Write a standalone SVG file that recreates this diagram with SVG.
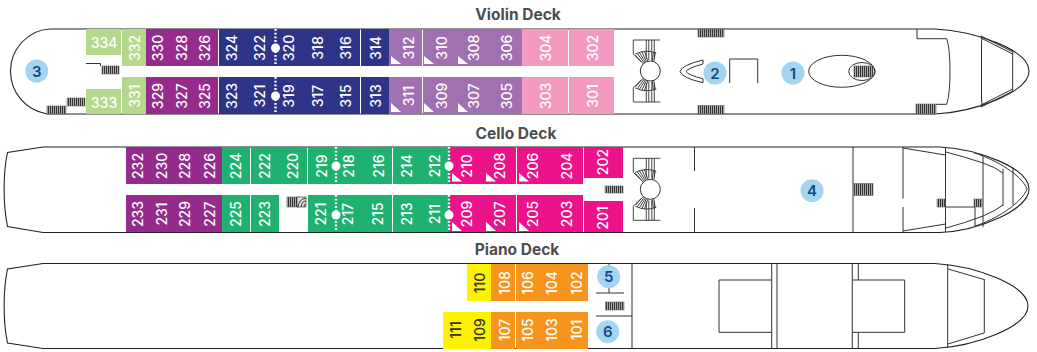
<svg xmlns="http://www.w3.org/2000/svg" width="1037" height="352" viewBox="0 0 1037 352">
<style>
text{font-family:Inter,"Open Sans","Liberation Sans",sans-serif}
.n{font-size:14px;font-weight:500;fill:#fff;text-anchor:middle;dominant-baseline:central}
.d{fill:#333}
.t{font-size:15.500px;font-weight:700;fill:#4d4d4f;text-anchor:middle}
.c{fill:#a3d5f2}
.b{font-size:15px;font-weight:600;fill:#0f4a80;text-anchor:middle;dominant-baseline:central}
.l{fill:none;stroke:#333;stroke-width:1}
.h{fill:none;stroke:#222;stroke-width:1.1}
.s{fill:url(#hatch);stroke:#666;stroke-width:.6}
.dot{stroke:#fff;stroke-width:2.400;stroke-dasharray:1.800 1.900;fill:none}
.w{fill:#fff}
.navy{fill:#2e3588}.pur{fill:#952b8c}.lg{fill:#b5d98c}.lp{fill:#a070b0}.pk{fill:#f39ac0}
.gr{fill:#1eb16f}.mg{fill:#ec1289}.or{fill:#f7941e}.ye{fill:#fff200}
</style>
<defs>
<pattern id="hatch" patternUnits="userSpaceOnUse" width="2" height="2"><rect width="2" height="2" fill="#aaa"/><rect width="1" height="2" fill="#333"/></pattern>
<g id="sp" fill="none" stroke="#333" stroke-width=".9">
<path d="M10 -31H-17V-17L-9 -9"/>
<path d="M-4 -31V-12M-1.500 -31V-11M1.500 -31V-11M4 -31V-12"/>
<path d="M-15 -17Q-4 -22 6 -18"/>
<path d="M-7 -7L-15 -16M-6 -8L-13 -17.500M-5 -9L-11 -18.500M-4 -9.500L-8.500 -19.500M-2.500 -10L-6 -20M2 -10L3 -19M3.500 -9.500L5 -18.500"/>
</g>
<g id="spiral"><use href="#sp"/><use href="#sp" transform="scale(1 -1)"/><circle r="10" fill="#fff" stroke="#333"/></g>
</defs>

<g id="hulls">
<path id="hull-violin" class="h" d="M50 29H935C975 31 1029 50 1029 71C1029 92 975 112 935 114H47C25 110 10.500 92 10.500 71C10.500 50 27 30 50 29Z"/>
<path id="hull-cello" class="h" d="M43 147H940C978 149 1029 168 1029 189C1029 210 978 231 940 232.500H43L7.500 226.500C3 205 3 173 7.500 152.500Z"/>
<path id="hull-piano" class="h" d="M43 263.500H935C975 266 1028 285 1028 306C1028 327 975 346 935 348.500H43L7.500 343C3 322 3 290 7.500 269Z"/>
</g>

<g id="titles">
<text class="t" x="518" y="20">Violin Deck</text>
<text class="t" x="516" y="139">Cello Deck</text>
<text class="t" x="517" y="255">Piano Deck</text>
</g>

<g id="violin-rooms">
<g id="r334"><rect class="lg" x="86" y="29" width="35" height="26"/><text class="n" x="104" y="42">334</text></g>
<g id="r332"><rect class="lg" x="122" y="29" width="24" height="37"/><text class="n" transform="rotate(-90 134 48)" x="134" y="48">332</text></g>
<g id="r330"><rect class="pur" x="146" y="29" width="23" height="37"/><text class="n" transform="rotate(-90 157 48)" x="157" y="48">330</text></g>
<g id="r328"><rect class="pur" x="169" y="29" width="23" height="37"/><text class="n" transform="rotate(-90 181 48)" x="181" y="48">328</text></g>
<g id="r326"><rect class="pur" x="192" y="29" width="26" height="37"/><text class="n" transform="rotate(-90 204 48)" x="204" y="48">326</text></g>
<g id="r324"><rect class="navy" x="219" y="29" width="26" height="37"/><text class="n" transform="rotate(-90 231 48)" x="231" y="48">324</text></g>
<g id="r322"><rect class="navy" x="245" y="29" width="30" height="37"/><text class="n" transform="rotate(-90 259 48)" x="259" y="48">322</text></g>
<g id="r320"><rect class="navy" x="275" y="29" width="28" height="37"/><text class="n" transform="rotate(-90 288 48)" x="288" y="48">320</text></g>
<g id="r318"><rect class="navy" x="303" y="29" width="28" height="37"/><text class="n" transform="rotate(-90 317 48)" x="317" y="48">318</text></g>
<g id="r316"><rect class="navy" x="331" y="29" width="29" height="37"/><text class="n" transform="rotate(-90 345 48)" x="345" y="48">316</text></g>
<g id="r314"><rect class="navy" x="361" y="29" width="28" height="37"/><text class="n" transform="rotate(-90 375 48)" x="375" y="48">314</text></g>
<g id="r312"><rect class="lp" x="389" y="29" width="33" height="37"/><path class="w" d="M391 56V64H401Z"/><text class="n" transform="rotate(-90 408 48)" x="408" y="48">312</text></g>
<g id="r310"><rect class="lp" x="423" y="29" width="34" height="37"/><path class="w" d="M424 56V64H434Z"/><text class="n" transform="rotate(-90 441 48)" x="441" y="48">310</text></g>
<g id="r308"><rect class="lp" x="457" y="29" width="33" height="37"/><path class="w" d="M458 56V64H468Z"/><text class="n" transform="rotate(-90 473 48)" x="473" y="48">308</text></g>
<g id="r306"><rect class="lp" x="490" y="29" width="32" height="37"/><text class="n" transform="rotate(-90 506 48)" x="506" y="48">306</text></g>
<g id="r304"><rect class="pk" x="522" y="29" width="46" height="37"/><text class="n" transform="rotate(-90 545 48)" x="545" y="48">304</text></g>
<g id="r302"><rect class="pk" x="569" y="29" width="45" height="37"/><text class="n" transform="rotate(-90 592 48)" x="592" y="48">302</text></g>

<g id="r333"><rect class="lg" x="86" y="89" width="35" height="25"/><text class="n" x="104" y="102">333</text></g>
<g id="r331"><rect class="lg" x="122" y="77" width="24" height="37"/><text class="n" transform="rotate(-90 134 96)" x="134" y="96">331</text></g>
<g id="r329"><rect class="pur" x="146" y="77" width="23" height="37"/><text class="n" transform="rotate(-90 157 96)" x="157" y="96">329</text></g>
<g id="r327"><rect class="pur" x="169" y="77" width="23" height="37"/><text class="n" transform="rotate(-90 181 96)" x="181" y="96">327</text></g>
<g id="r325"><rect class="pur" x="192" y="77" width="26" height="37"/><text class="n" transform="rotate(-90 204 96)" x="204" y="96">325</text></g>
<g id="r323"><rect class="navy" x="219" y="77" width="26" height="37"/><text class="n" transform="rotate(-90 231 96)" x="231" y="96">323</text></g>
<g id="r321"><rect class="navy" x="245" y="77" width="30" height="37"/><text class="n" transform="rotate(-90 259 96)" x="259" y="96">321</text></g>
<g id="r319"><rect class="navy" x="275" y="77" width="28" height="37"/><text class="n" transform="rotate(-90 288 96)" x="288" y="96">319</text></g>
<g id="r317"><rect class="navy" x="303" y="77" width="28" height="37"/><text class="n" transform="rotate(-90 317 96)" x="317" y="96">317</text></g>
<g id="r315"><rect class="navy" x="331" y="77" width="29" height="37"/><text class="n" transform="rotate(-90 345 96)" x="345" y="96">315</text></g>
<g id="r313"><rect class="navy" x="361" y="77" width="28" height="37"/><text class="n" transform="rotate(-90 375 96)" x="375" y="96">313</text></g>
<g id="r311"><rect class="lp" x="389" y="77" width="33" height="37"/><path class="w" d="M391 103V112H401Z"/><text class="n" transform="rotate(-90 408 96)" x="408" y="96">311</text></g>
<g id="r309"><rect class="lp" x="423" y="77" width="34" height="37"/><path class="w" d="M424 103V112H434Z"/><text class="n" transform="rotate(-90 441 96)" x="441" y="96">309</text></g>
<g id="r307"><rect class="lp" x="457" y="77" width="33" height="37"/><path class="w" d="M458 103V112H468Z"/><text class="n" transform="rotate(-90 473 96)" x="473" y="96">307</text></g>
<g id="r305"><rect class="lp" x="490" y="77" width="32" height="37"/><text class="n" transform="rotate(-90 506 96)" x="506" y="96">305</text></g>
<g id="r303"><rect class="pk" x="522" y="77" width="46" height="37"/><text class="n" transform="rotate(-90 545 96)" x="545" y="96">303</text></g>
<g id="r301"><rect class="pk" x="569" y="77" width="45" height="37"/><text class="n" transform="rotate(-90 592 96)" x="592" y="96">301</text></g>
</g>

<g id="cello-rooms">
<g id="r232"><rect class="pur" x="126" y="147" width="23" height="37"/><text class="n" transform="rotate(-90 137 166)" x="137" y="166">232</text></g>
<g id="r230"><rect class="pur" x="149" y="147" width="24" height="37"/><text class="n" transform="rotate(-90 161 166)" x="161" y="166">230</text></g>
<g id="r228"><rect class="pur" x="173" y="147" width="24" height="37"/><text class="n" transform="rotate(-90 184 166)" x="184" y="166">228</text></g>
<g id="r226"><rect class="pur" x="197" y="147" width="25" height="37"/><text class="n" transform="rotate(-90 209 166)" x="209" y="166">226</text></g>
<g id="r224"><rect class="gr" x="222" y="147" width="28" height="37"/><text class="n" transform="rotate(-90 235 166)" x="235" y="166">224</text></g>
<g id="r222"><rect class="gr" x="251" y="147" width="27" height="37"/><text class="n" transform="rotate(-90 264 166)" x="264" y="166">222</text></g>
<g id="r220"><rect class="gr" x="278" y="147" width="29" height="37"/><text class="n" transform="rotate(-90 292 166)" x="292" y="166">220</text></g>
<g id="r219"><rect class="gr" x="308" y="147" width="28" height="37"/><text class="n" transform="rotate(-90 321 166)" x="321" y="166">219</text></g>
<g id="r218"><rect class="gr" x="336" y="147" width="27" height="37"/><text class="n" transform="rotate(-90 348 166)" x="348" y="166">218</text></g>
<g id="r216"><rect class="gr" x="363" y="147" width="29" height="37"/><text class="n" transform="rotate(-90 378 166)" x="378" y="166">216</text></g>
<g id="r214"><rect class="gr" x="393" y="147" width="27" height="37"/><text class="n" transform="rotate(-90 406 166)" x="406" y="166">214</text></g>
<g id="r212"><rect class="gr" x="420" y="147" width="29" height="37"/><text class="n" transform="rotate(-90 434 166)" x="434" y="166">212</text></g>
<g id="r210"><rect class="mg" x="449" y="147" width="34" height="37"/><path class="w" d="M452 173V181.500H462Z"/><text class="n" transform="rotate(-90 466 166)" x="466" y="166">210</text></g>
<g id="r208"><rect class="mg" x="483" y="147" width="33" height="37"/><path class="w" d="M486 173V181.500H496Z"/><text class="n" transform="rotate(-90 499 166)" x="499" y="166">208</text></g>
<g id="r206"><rect class="mg" x="517" y="147" width="32" height="37"/><path class="w" d="M519 173V181.500H529Z"/><text class="n" transform="rotate(-90 532 166)" x="532" y="166">206</text></g>
<g id="r204"><rect class="mg" x="549" y="147" width="34" height="37"/><text class="n" transform="rotate(-90 566 166)" x="566" y="166">204</text></g>
<g id="r202"><rect class="mg" x="584" y="147" width="39" height="31"/><text class="n" transform="rotate(-90 602 162)" x="602" y="162">202</text></g>

<g id="r233"><rect class="pur" x="126" y="195" width="23" height="37"/><text class="n" transform="rotate(-90 137 214)" x="137" y="214">233</text></g>
<g id="r231"><rect class="pur" x="149" y="195" width="24" height="37"/><text class="n" transform="rotate(-90 161 214)" x="161" y="214">231</text></g>
<g id="r229"><rect class="pur" x="173" y="195" width="24" height="37"/><text class="n" transform="rotate(-90 184 214)" x="184" y="214">229</text></g>
<g id="r227"><rect class="pur" x="197" y="195" width="25" height="37"/><text class="n" transform="rotate(-90 209 214)" x="209" y="214">227</text></g>
<g id="r225"><rect class="gr" x="222" y="195" width="28" height="37"/><text class="n" transform="rotate(-90 235 214)" x="235" y="214">225</text></g>
<g id="r223"><rect class="gr" x="251" y="195" width="28" height="37"/><text class="n" transform="rotate(-90 264 214)" x="264" y="214">223</text></g>
<g id="r221"><rect class="gr" x="308" y="195" width="28" height="37"/><text class="n" transform="rotate(-90 320 214)" x="320" y="214">221</text></g>
<g id="r217"><rect class="gr" x="336" y="195" width="27" height="37"/><text class="n" transform="rotate(-90 347 214)" x="347" y="214">217</text></g>
<g id="r215"><rect class="gr" x="363" y="195" width="29" height="37"/><text class="n" transform="rotate(-90 377 214)" x="377" y="214">215</text></g>
<g id="r213"><rect class="gr" x="393" y="195" width="27" height="37"/><text class="n" transform="rotate(-90 406 214)" x="406" y="214">213</text></g>
<g id="r211"><rect class="gr" x="420" y="195" width="29" height="37"/><text class="n" transform="rotate(-90 434 214)" x="434" y="214">211</text></g>
<g id="r209"><rect class="mg" x="449" y="195" width="34" height="37"/><path class="w" d="M452 222V231H462Z"/><text class="n" transform="rotate(-90 466 214)" x="466" y="214">209</text></g>
<g id="r207"><rect class="mg" x="483" y="195" width="33" height="37"/><path class="w" d="M486 222V231H496Z"/><text class="n" transform="rotate(-90 499 214)" x="499" y="214">207</text></g>
<g id="r205"><rect class="mg" x="517" y="195" width="32" height="37"/><path class="w" d="M519 222V231H529Z"/><text class="n" transform="rotate(-90 532 214)" x="532" y="214">205</text></g>
<g id="r203"><rect class="mg" x="549" y="195" width="34" height="37"/><text class="n" transform="rotate(-90 566 214)" x="566" y="214">203</text></g>
<g id="r201"><rect class="mg" x="584" y="201" width="39" height="31"/><text class="n" transform="rotate(-90 602 218)" x="602" y="218">201</text></g>
</g>

<g id="piano-rooms">
<g id="r110"><rect class="ye" x="467" y="264" width="24" height="37"/><text class="n d" transform="rotate(-90 479 283)" x="479" y="283">110</text></g>
<g id="r108"><rect class="or" x="491" y="264" width="24" height="37"/><text class="n" transform="rotate(-90 504 283)" x="504" y="283">108</text></g>
<g id="r106"><rect class="or" x="516" y="264" width="24" height="37"/><text class="n" transform="rotate(-90 527 283)" x="527" y="283">106</text></g>
<g id="r104"><rect class="or" x="540" y="264" width="24" height="37"/><text class="n" transform="rotate(-90 551 283)" x="551" y="283">104</text></g>
<g id="r102"><rect class="or" x="564" y="264" width="24" height="37"/><text class="n" transform="rotate(-90 576 283)" x="576" y="283">102</text></g>
<g id="r111"><rect class="ye" x="443" y="312" width="24" height="37"/><text class="n d" transform="rotate(-90 455 330)" x="455" y="330">111</text></g>
<g id="r109"><rect class="ye" x="467" y="312" width="24" height="37"/><text class="n d" transform="rotate(-90 479 330)" x="479" y="330">109</text></g>
<g id="r107"><rect class="or" x="491" y="312" width="24" height="37"/><text class="n" transform="rotate(-90 504 330)" x="504" y="330">107</text></g>
<g id="r105"><rect class="or" x="516" y="312" width="24" height="37"/><text class="n" transform="rotate(-90 527 330)" x="527" y="330">105</text></g>
<g id="r103"><rect class="or" x="540" y="312" width="24" height="37"/><text class="n" transform="rotate(-90 551 330)" x="551" y="330">103</text></g>
<g id="r101"><rect class="or" x="564" y="312" width="24" height="37"/><text class="n" transform="rotate(-90 576 330)" x="576" y="330">101</text></g>
</g>

<g id="connectors">
<g id="elevators">
<path class="dot" d="M275.500 29V66M275.500 77V114M336 147V184M336 195V232M449 147V184M449 195V232"/>
<g class="w"><circle cx="275.500" cy="48" r="4.500"/><circle cx="275.500" cy="96" r="4.500"/><circle cx="336" cy="166" r="4.500"/><circle cx="336" cy="215" r="4.500"/><circle cx="449" cy="166" r="4.500"/><circle cx="449" cy="215" r="4.500"/></g>
</g>
<g id="violin-lines" class="l">
<path d="M86 63.500H100.500V66"/>
<path d="M703 60Q682 65 680 71.500Q682 78 703 82.700V78.700Q688 75 686 71.500Q688 68 703 64Z"/>
<path d="M729.700 83V59H757.700V83"/>
<ellipse cx="841.700" cy="71.300" rx="33" ry="16"/>
<ellipse cx="862" cy="71.500" rx="13.300" ry="9"/>
<path d="M917 29V38.700H946.700Q950 48 950 71Q950 94 946.700 104.300H936"/>
<path d="M980.500 36Q983 38 981.500 42V100Q983 104 980.500 107M981 36L1013 52M981 107L1013 91M1012.700 52V91"/>
<path d="M981 38L1012.700 54M981 105L1012.700 89"/>
</g>
<g id="cello-lines" class="l">
<path d="M694.500 147V171M694.500 208V232M853 147V232M903 147V198.500M903 207V232"/>
<path d="M903 148L945.500 155M903 231L945.500 224M945.500 148V232"/>
<path d="M946 152Q965 157 983 163Q995 167 1003 173M946 228Q965 223 983 216Q995 211 1003 205"/>
<path d="M1003 169V206M983 155V227M1013 168V205"/>
<path d="M974 153L982 155M980 155C995 160 1022 175 1027 189C1022 203 995 220 975 226"/>
<path d="M945 207H975V227"/>
</g>
<g id="piano-lines" class="l">
<path d="M609 264V293M596 293H624M596 316H632M632 264V349"/>
<path d="M771.700 264V349M777 264V349"/>
<path d="M771.700 280H719V332.300H771.700"/>
<path d="M852.300 264V349M858.300 264V280M858.300 332.300V349"/>
<path d="M852.300 280H904.700V332.300H852.300"/>
<path d="M947.700 264V348M984.300 279V333M948 269L984 279.500M948 344L984 333"/>
</g>
<g id="stairs">
<rect class="s" x="102" y="66" width="17" height="8"/>
<rect class="s" x="67" y="98" width="18" height="8"/>
<rect class="s" x="47" y="106" width="19" height="8"/>
<rect class="s" x="698" y="29" width="26" height="8"/>
<rect class="s" x="698" y="105.500" width="26" height="8.500"/>
<rect class="s" x="916" y="104" width="20" height="10"/>
<rect class="s" x="854" y="66" width="19" height="11"/>
<rect class="s" x="605" y="186" width="18" height="7"/>
<rect class="s" x="287" y="197" width="12" height="10"/>
<rect x="297" y="197" width="9" height="10" fill="#ddd" stroke="#333" stroke-width=".6"/>
<path class="l" d="M298 207Q299 199 306 198M301 207Q302 201 306 201M304 207Q304 204 306 204"/>
<rect class="s" x="854" y="183.500" width="19" height="12"/>
<rect class="s" x="937" y="199" width="8" height="8"/>
<rect class="s" x="974" y="199" width="8" height="8"/>
<rect class="s" x="605.500" y="302" width="18.500" height="8"/>
</g>
<use href="#spiral" x="650.300" y="71"/>
<use href="#spiral" x="650.300" y="189.300"/>
</g>

<g id="n1"><circle class="c" cx="793" cy="73" r="11.500"/><text class="b" x="793" y="73">1</text></g>
<g id="n2"><circle class="c" cx="715" cy="73" r="11.500"/><text class="b" x="715" y="73">2</text></g>
<g id="n3"><circle class="c" cx="36.700" cy="71" r="11.500"/><text class="b" x="36.700" y="71">3</text></g>
<g id="n4"><circle class="c" cx="812" cy="190.700" r="11.500"/><text class="b" x="812" y="190.700">4</text></g>
<g id="n5"><circle class="c" cx="608.700" cy="276.700" r="11.500"/><text class="b" x="608.700" y="276.700">5</text></g>
<g id="n6"><circle class="c" cx="607.700" cy="331.700" r="11.500"/><text class="b" x="607.700" y="331.700">6</text></g>
</svg>
